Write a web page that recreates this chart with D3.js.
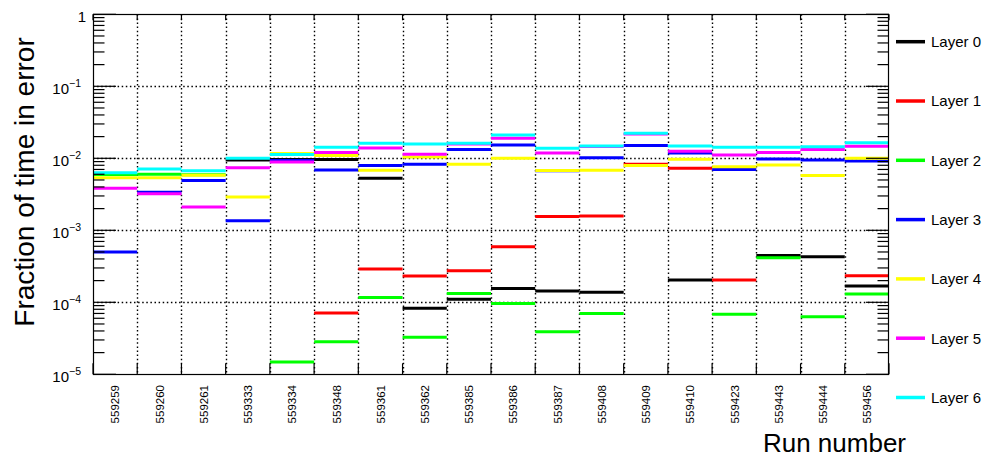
<!DOCTYPE html>
<html>
<head>
<meta charset="utf-8">
<script src="https://cdn.jsdelivr.net/npm/d3@7"></script>
<style>
  html, body { margin: 0; padding: 0; background: #ffffff; }
  svg { display: block; font-family: "Liberation Sans", Arial, Helvetica, sans-serif; }
</style>
</head>
<body>
<svg id="chart" width="985" height="459"></svg>
<script>
// Run numbers (x categories)
const runs = ["559259","559260","559261","559333","559334","559348","559361","559362","559385",
              "559386","559387","559408","559409","559410","559423","559443","559444","559456"];

// Fraction of time in error per layer (null = no entry for that run)
const layer0 = [null, null, null, 9.5e-3, 9.6e-3, 9.6e-3, 5.3e-3, 8.3e-5, 1.10e-4,
                1.55e-4, 1.44e-4, 1.38e-4, null, 2.04e-4, null, 4.45e-4, 4.3e-4, 1.68e-4];
const layer1 = [null, null, null, null, null, 7.1e-5, 2.9e-4, 2.32e-4, 2.75e-4,
                5.9e-4, 1.55e-3, 1.58e-3, 8.3e-3, 7.3e-3, 2.04e-4, null, null, 2.34e-4];
const layer2 = [5.95e-3, 6.0e-3, 5.9e-3, null, 1.48e-5, 2.84e-5, 1.17e-4, 3.26e-5, 1.32e-4,
                9.6e-5, 3.9e-5, 7.0e-5, null, null, 6.8e-5, 4.15e-4, 6.3e-5, 1.30e-4];
const layer3 = [5.0e-4, 3.37e-3, 4.9e-3, 1.36e-3, 9.3e-3, 6.9e-3, 7.95e-3, 8.3e-3, 1.33e-2,
                1.53e-2, 6.7e-3, 1.02e-2, 1.50e-2, 1.18e-2, 7.0e-3, 9.8e-3, 9.5e-3, 9.2e-3];
const layer4 = [5.35e-3, 5.35e-3, 5.8e-3, 2.9e-3, 1.17e-2, 1.09e-2, 6.8e-3, 1.04e-2, 8.25e-3,
                1.0e-2, 6.75e-3, 6.8e-3, 7.95e-3, 9.7e-3, 7.65e-3, 8.05e-3, 5.75e-3, 1.0e-2];
const layer5 = [3.83e-3, 3.22e-3, 2.11e-3, 7.4e-3, 8.9e-3, 1.20e-2, 1.39e-2, 1.14e-2, 1.58e-2,
                1.9e-2, 1.18e-2, 1.46e-2, 2.17e-2, 1.25e-2, 1.11e-2, 1.20e-2, 1.33e-2, 1.47e-2];
const layer6 = [6.3e-3, 7.1e-3, 6.7e-3, 1.0e-2, 1.13e-2, 1.42e-2, 1.62e-2, 1.58e-2, 1.62e-2,
                2.11e-2, 1.38e-2, 1.48e-2, 2.22e-2, 1.48e-2, 1.42e-2, 1.42e-2, 1.45e-2, 1.65e-2];

const layerNames  = ["Layer 0","Layer 1","Layer 2","Layer 3","Layer 4","Layer 5","Layer 6"];
const layerColors = ["#000000","#ff0000","#00ff00","#0000ff","#ffff00","#ff00ff","#00ffff"];
const layerValues = [layer0, layer1, layer2, layer3, layer4, layer5, layer6];

// Decade tick values and their exponents for the log axis labels
const yDecades = [1e-5, 1e-4, 1e-3, 1e-2, 1e-1, 1];
const yExponents = ["\u22125", "\u22124", "\u22123", "\u22122", "\u22121", ""];

const plot = { left: 93, right: 889, top: 14.3, bottom: 374.3 };

const svg = d3.select("#chart");

const x = d3.scaleBand().domain(runs).range([plot.left, plot.right]).paddingInner(0).paddingOuter(0);
const y = d3.scaleLog().domain([1e-5, 1]).range([plot.bottom, plot.top]);

// Grid: dotted lines at bin edges and decades
const grid = svg.append("g").attr("stroke", "#000").attr("stroke-width", 1.4)
  .attr("stroke-dasharray", "1.5 2.6");
runs.slice(1).forEach(r => {
  const xx = Math.round(x(r)) + 0.5;
  grid.append("line").attr("x1", xx).attr("x2", xx).attr("y1", plot.top).attr("y2", plot.bottom);
});
yDecades.slice(1, -1).forEach(v => {
  const yy = Math.round(y(v)) + 0.5;
  grid.append("line").attr("x1", plot.left).attr("x2", plot.right).attr("y1", yy).attr("y2", yy);
});

// Per-run horizontal segments for each layer, layer 0 drawn first
const segs = svg.append("g");
layerValues.forEach((vals, li) => {
  segs.append("g")
    .attr("stroke", layerColors[li])
    .attr("stroke-width", 3)
    .selectAll("line")
    .data(vals.map((v, i) => ({ run: runs[i], v })).filter(d => d.v != null))
    .join("line")
    .attr("x1", d => x(d.run))
    .attr("x2", d => x(d.run) + x.bandwidth())
    .attr("y1", d => y(d.v))
    .attr("y2", d => y(d.v));
});

// Frame
svg.append("rect")
  .attr("x", plot.left + 0.5).attr("y", Math.round(plot.top) + 0.5)
  .attr("width", plot.right - plot.left - 1).attr("height", Math.round(plot.bottom) - Math.round(plot.top))
  .attr("fill", "none").attr("stroke", "#000").attr("stroke-width", 1.2);

// Log-axis ticks on left (inward) and right (inward)
const ticks = svg.append("g").attr("stroke", "#000").attr("stroke-width", 1.2);
const logTicks = [];
for (let e = -5; e <= 0; e++) {
  for (let m = 1; m <= 9; m++) {
    const v = m * Math.pow(10, e);
    if (v > 1 + 1e-12) break;
    logTicks.push({ v, major: m === 1 });
  }
}
logTicks.forEach(t => {
  const yy = y(t.v);
  const len = t.major ? 23 : 11.5;
  ticks.append("line").attr("x1", plot.left).attr("x2", plot.left + len).attr("y1", yy).attr("y2", yy);
  ticks.append("line").attr("x1", plot.right).attr("x2", plot.right - len).attr("y1", yy).attr("y2", yy);
});

// X ticks at bin edges
d3.range(runs.length + 1).forEach(i => {
  const xx = plot.left + i * x.bandwidth();
  ticks.append("line").attr("x1", xx).attr("x2", xx).attr("y1", plot.bottom).attr("y2", plot.bottom - 11);
  ticks.append("line").attr("x1", xx).attr("x2", xx).attr("y1", plot.top).attr("y2", plot.top + 6);
});

// Y tick labels (powers of ten)
const yLabels = svg.append("g").attr("fill", "#000");
yDecades.forEach((v, i) => {
  const yy = y(v);
  if (v === 1) {
    yLabels.append("text").attr("x", 86).attr("y", yy + 8)
      .attr("text-anchor", "end").attr("font-size", 15).text("1");
  } else {
    const t = yLabels.append("text").attr("x", 81).attr("y", yy + 7.5)
      .attr("text-anchor", "end").attr("font-size", 15);
    t.append("tspan").text("10");
    t.append("tspan").attr("dy", -7).attr("font-size", 10.5).text(yExponents[i]);
  }
});

// X tick labels (vertical run numbers)
svg.append("g").selectAll("text")
  .data(runs)
  .join("text")
  .attr("transform", d => `translate(${x(d) + x.bandwidth() / 2 + 4.3},385) rotate(-90)`)
  .attr("text-anchor", "end")
  .attr("font-size", 11.5)
  .attr("fill", "#000")
  .text(d => d);

// Axis titles
svg.append("text")
  .attr("transform", "translate(34,182) rotate(-90)")
  .attr("text-anchor", "middle")
  .attr("font-size", 28)
  .attr("fill", "#000")
  .text("Fraction of time in error");

svg.append("text")
  .attr("x", 906).attr("y", 452)
  .attr("text-anchor", "end")
  .attr("font-size", 26)
  .attr("fill", "#000")
  .text("Run number");

// Legend
const legend = svg.append("g");
layerNames.forEach((name, i) => {
  const ly = 41.7 + i * 59.3;
  legend.append("line").attr("x1", 896).attr("x2", 925).attr("y1", ly).attr("y2", ly)
    .attr("stroke", layerColors[i]).attr("stroke-width", 3.5);
  legend.append("text").attr("x", 931).attr("y", ly + 5.3)
    .attr("font-size", 15).attr("fill", "#000").text(name);
});
</script>
</body>
</html>
